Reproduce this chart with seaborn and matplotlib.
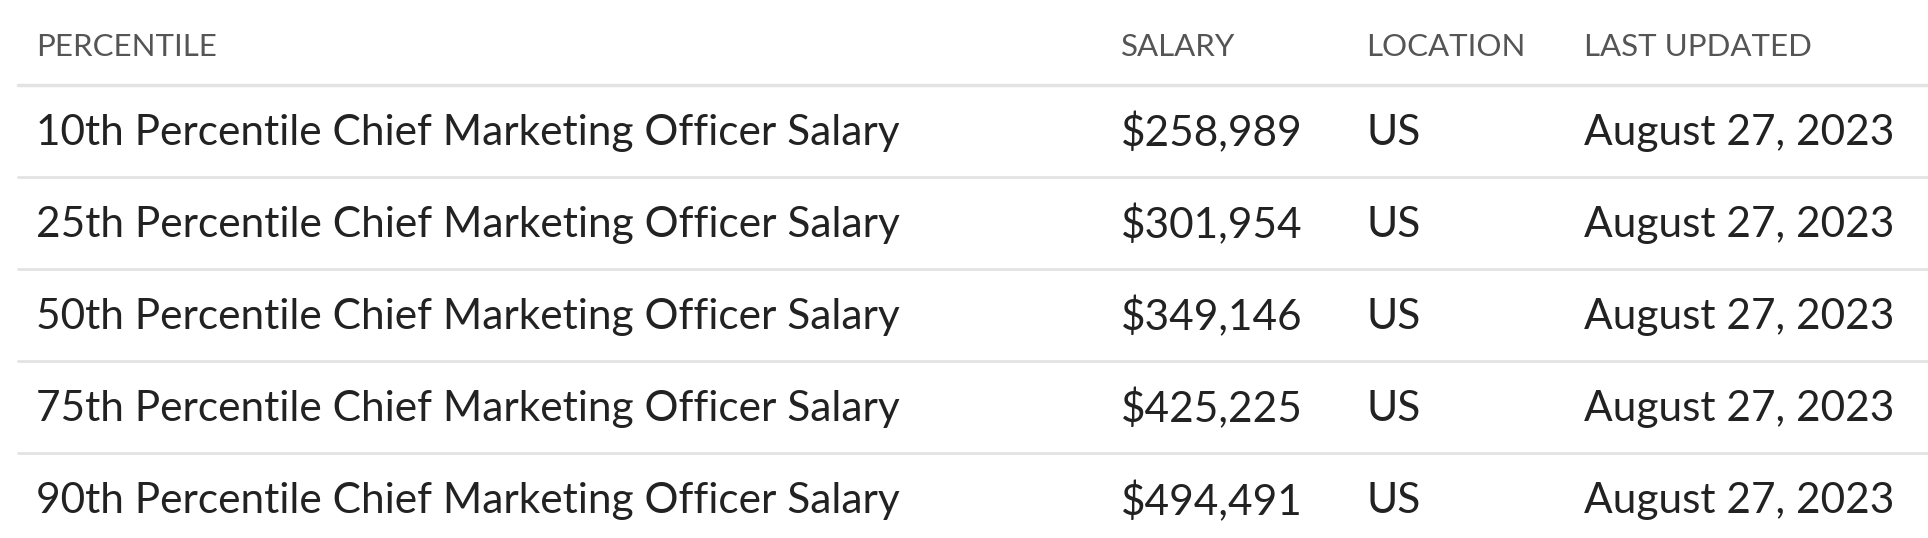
import matplotlib
matplotlib.use("Agg")
import matplotlib.pyplot as plt
import seaborn as sns

headers = ["PERCENTILE", "SALARY", "LOCATION", "LAST UPDATED"]
percentiles = ["10th", "25th", "50th", "75th", "90th"]
salaries = ["$258,989", "$301,954", "$349,146", "$425,225", "$494,491"]
locations = ["US", "US", "US", "US", "US"]
updated = ["August 27, 2023"] * 5

sns.set_theme(style="white")
plt.rcParams['font.family'] = ['Lato', 'DejaVu Sans']

fig = plt.figure(figsize=(19.28, 5.38), dpi=100)
ax = fig.add_axes([0, 0, 1, 1])
ax.set_xlim(0, 1568)
ax.set_ylim(438, 0)
ax.axis("off")

cols = [29, 912, 1111, 1288]
for x, h in zip(cols, headers):
    ax.text(x, 38, h, fontsize=22.5, color="#555555", va="center", ha="left")
ax.plot([15, 1568], [69, 69], color="#e3e3e3", lw=2.5)
for i in range(5):
    y = 108 + 75 * i
    row = [f"{percentiles[i]} Percentile Chief Marketing Officer Salary",
           salaries[i], locations[i], updated[i]]
    for x, t in zip(cols, row):
        ax.text(x, y, t, fontsize=30.5, color="#222222", va="center", ha="left")
    if i < 4:
        ax.plot([15, 1568], [y + 36, y + 36], color="#e3e3e3", lw=2)

fig.savefig("out.png", dpi=100)
